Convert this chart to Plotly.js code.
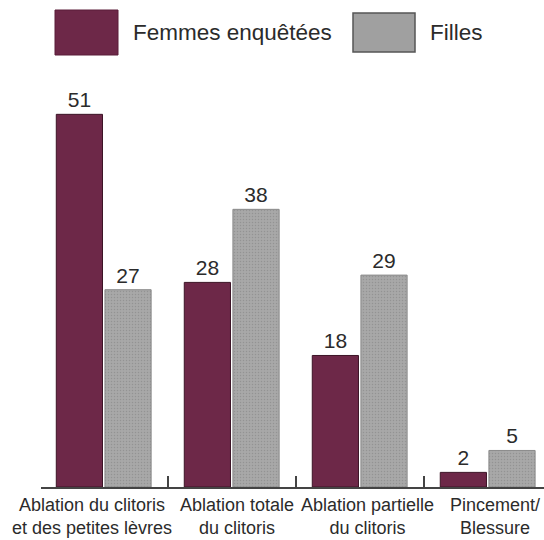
<!DOCTYPE html>
<html><head><meta charset="utf-8">
<script src="https://cdn.plot.ly/plotly-3.0.1.min.js"></script>
<style>html,body{margin:0;padding:0;background:#fff}#c{width:544px;height:540px}</style>
</head><body><div id="c"></div>
<script>
const categories = ["Ablation du clitoris<br>et des petites lèvres", "Ablation totale<br>du clitoris", "Ablation partielle<br>du clitoris", "Pincement/<br>Blessure"];
const seriesNames = ["Femmes enquêtées", "Filles"];
const femmes = [51, 28, 18, 2];
const filles = [27, 38, 29, 5];

const catIdx = categories.map((_, i) => i);
const boundaries = [0.5, 1.5, 2.5];
const labelShift = [-12, 5, 8, 7];
const txtColor = "#2b2b2b";
const font = "Liberation Sans, Arial, sans-serif";

// plot-area geometry (pixels) used to convert legend placement to paper units
const L = 41, R = 0, T = 80, B = 53, W = 544, H = 540;
const pw = W - L - R, ph = H - T - B;
const px = v => (v - L) / pw;
const py = v => (H - B - v) / ph;

const traces = [
  {type: "bar", name: seriesNames[0], x: catIdx, y: femmes, text: femmes.map(String),
   textposition: "outside", cliponaxis: false,
   textfont: {family: font, size: 21, color: txtColor},
   marker: {color: "#6d2848", line: {color: "#3c1426", width: 1}}},
  {type: "bar", name: seriesNames[1], x: catIdx, y: filles, text: filles.map(String),
   textposition: "outside", cliponaxis: false,
   textfont: {family: font, size: 21, color: txtColor},
   marker: {color: "#a6a6a6", line: {color: "#8a8a8a", width: 1},
            pattern: {shape: ".", size: 3, solidity: 0.2, fgcolor: "#939393", bgcolor: "#a8a8a8", fillmode: "replace"}}}
];

const annotations = categories.map((c, i) => ({
  x: i, y: 0, xref: "x", yref: "y", text: c, showarrow: false,
  yanchor: "top", xanchor: "center", yshift: -6, xshift: labelShift[i],
  font: {family: font, size: 18, color: txtColor}, align: "center"
}));
annotations.push(
  {x: px(131), y: py(33), xref: "paper", yref: "paper", text: seriesNames[0], showarrow: false,
   xanchor: "left", yanchor: "middle", font: {family: font, size: 22.5, color: txtColor}},
  {x: px(428), y: py(33), xref: "paper", yref: "paper", text: seriesNames[1], showarrow: false,
   xanchor: "left", yanchor: "middle", font: {family: font, size: 22.5, color: txtColor}}
);

const shapes = [
  {type: "rect", xref: "paper", yref: "paper", x0: px(55), x1: px(118), y0: py(55), y1: py(10),
   fillcolor: "#6d2848", line: {color: "#5a1d39", width: 1}},
  {type: "rect", xref: "paper", yref: "paper", x0: px(353), x1: px(415), y0: py(52), y1: py(13),
   fillcolor: "#a0a0a0", line: {color: "#555", width: 1.5}}
];

const layout = {
  width: W, height: H,
  margin: {l: L, r: R, t: T, b: B},
  paper_bgcolor: "#fff", plot_bgcolor: "#fff",
  showlegend: false,
  barmode: "group", bargap: 0.24, bargroupgap: 0.05,
  xaxis: {type: "linear", range: [-0.49, 3.44], showgrid: false, zeroline: false,
          showline: true, linecolor: "#444", linewidth: 2, layer: "above traces",
          tickmode: "array", tickvals: boundaries, ticktext: boundaries.map(() => ""),
          ticks: "inside", ticklen: 11, tickwidth: 2, tickcolor: "#444",
          showticklabels: true},
  yaxis: {range: [0, 55.7], visible: false},
  annotations: annotations,
  shapes: shapes
};

Plotly.newPlot("c", traces, layout, {displayModeBar: false, staticPlot: true});
</script></body></html>
